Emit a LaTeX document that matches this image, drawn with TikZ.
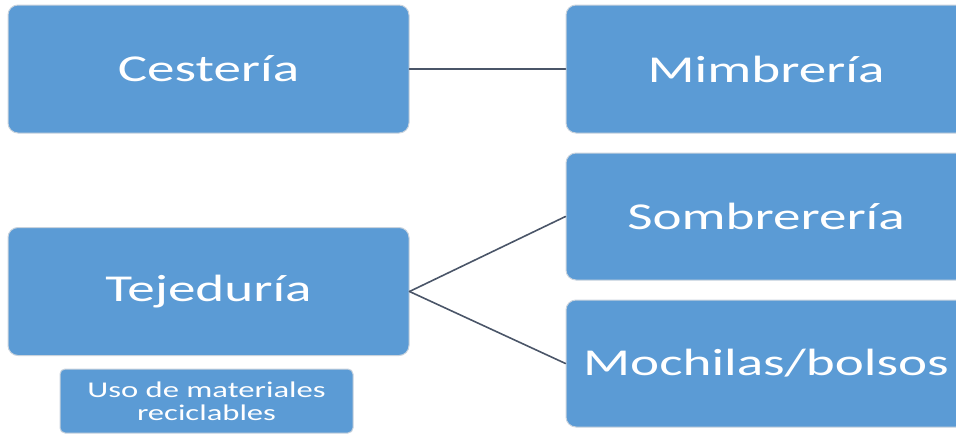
\documentclass[tikz,border=0pt]{standalone}
\usepackage{fontspec}
\setmainfont{Carlito}[FakeStretch=1.45]
\usetikzlibrary{positioning}
\definecolor{BoxBlue}{HTML}{5B9BD5}
\definecolor{BoxEdge}{HTML}{C9D3DD}
\definecolor{LinkSlate}{HTML}{4A5568}

\begin{document}
\begin{tikzpicture}[x=1pt,y=-1pt,line cap=round,line join=round,
    craft/.style={draw=BoxEdge,fill=BoxBlue,rounded corners=10pt,line width=1pt,
      text=white,font=\fontsize{38}{40}\selectfont,minimum width=401pt,
      minimum height=128pt,inner sep=0pt},
    note/.style={draw=BoxEdge,fill=BoxBlue,rounded corners=5pt,line width=1pt,
      text=white,font=\fontsize{22.5}{23}\selectfont,minimum width=293pt,
      minimum height=64pt,inner sep=0pt,align=center},
    link/.style={draw=LinkSlate,line width=1.6pt}]
  \useasboundingbox (0,0) rectangle (956,434);
  \clip (0,0) rectangle (956,434);
  % left column
  \node[craft] (ces) at (208.5,69) {Cestería};
  \node[craft] (tej) at (208.5,291.5) {Tejeduría};
  \node[note] (uso) at (206.5,401) {Uso de materiales\\reciclables};
  % right column
  \node[craft,minimum width=400pt] (mim) at (766,69) {Mimbrería};
  \node[craft,minimum width=400pt,minimum height=127pt] (som) at (766,216.5) {Sombrerería};
  \node[craft,minimum width=400pt,minimum height=127pt] (moc) at (766,363.5) {Mochilas/bolsos};
  % links
  \draw[link] (ces.east) -- (mim.west);
  \draw[link] (tej.east) -- (som.west);
  \draw[link] (tej.east) -- (moc.west);
\end{tikzpicture}
\end{document}
